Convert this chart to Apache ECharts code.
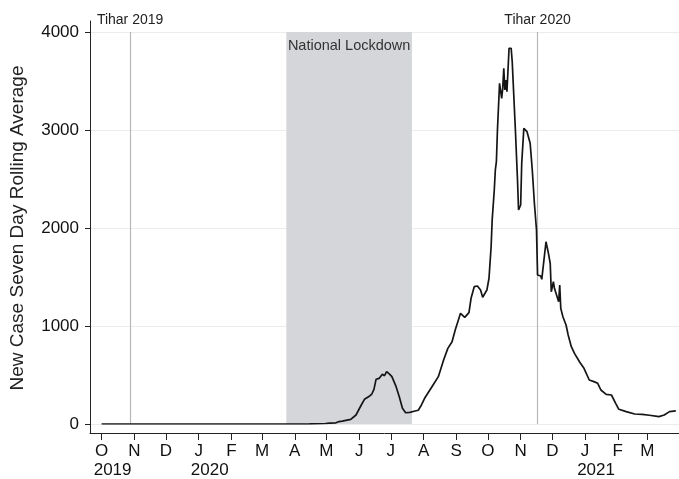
<!DOCTYPE html>
<html>
<head>
<meta charset="utf-8">
<script src="https://cdn.jsdelivr.net/npm/echarts@6/dist/echarts.min.js"></script>
<style>
  html, body { margin: 0; padding: 0; background: #fff; }
  #chart { width: 679px; height: 479px; }
</style>
</head>
<body>
<div id="chart"></div>
<script>
// Seven-day rolling average of new COVID-19 cases
const caseDates = [
  '2019-10-01', '2020-03-31', '2020-04-15', '2020-04-30', '2020-05-04', '2020-05-10',
  '2020-05-13', '2020-05-16', '2020-05-24', '2020-05-29', '2020-06-03', '2020-06-06',
  '2020-06-11', '2020-06-13', '2020-06-15', '2020-06-17', '2020-06-20', '2020-06-23',
  '2020-06-25', '2020-06-27', '2020-06-30', '2020-07-02', '2020-07-06', '2020-07-09',
  '2020-07-12', '2020-07-15', '2020-07-19', '2020-07-24', '2020-07-27', '2020-07-30',
  '2020-08-02', '2020-08-07', '2020-08-10', '2020-08-15', '2020-08-20', '2020-08-24',
  '2020-08-28', '2020-08-31', '2020-09-03', '2020-09-05', '2020-09-09', '2020-09-13',
  '2020-09-15', '2020-09-18', '2020-09-21', '2020-09-24', '2020-09-26', '2020-09-30',
  '2020-10-02', '2020-10-04', '2020-10-05', '2020-10-07', '2020-10-08', '2020-10-09',
  '2020-10-10', '2020-10-11', '2020-10-12', '2020-10-14', '2020-10-15', '2020-10-16',
  '2020-10-17', '2020-10-18', '2020-10-19', '2020-10-21', '2020-10-23', '2020-10-24',
  '2020-10-25', '2020-10-27', '2020-10-29', '2020-10-30', '2020-11-01', '2020-11-02',
  '2020-11-04', '2020-11-07', '2020-11-10', '2020-11-12', '2020-11-14', '2020-11-16',
  '2020-11-17', '2020-11-20', '2020-11-21', '2020-11-25', '2020-11-27', '2020-11-29',
  '2020-11-30', '2020-12-02', '2020-12-03', '2020-12-05', '2020-12-07', '2020-12-08',
  '2020-12-09', '2020-12-11', '2020-12-14', '2020-12-16', '2020-12-19', '2020-12-22',
  '2020-12-27', '2020-12-31', '2021-01-05', '2021-01-10', '2021-01-13', '2021-01-16',
  '2021-01-21', '2021-01-26', '2021-01-30', '2021-02-02', '2021-02-09', '2021-02-17',
  '2021-02-24', '2021-03-03', '2021-03-12', '2021-03-17', '2021-03-22', '2021-03-28'
];
const caseValues = [
  0, 0, 2, 5, 8, 12,
  25, 30, 48, 92, 194, 252,
  286, 306, 354, 456, 466, 507,
  493, 534, 507, 483, 381, 279,
  160, 115, 118, 133, 140, 194,
  262, 347, 398, 483, 653, 772,
  840, 959, 1061, 1129, 1088, 1136,
  1283, 1401, 1408, 1367, 1293, 1367,
  1487, 1809, 2080, 2388, 2592, 2677,
  3000, 3017, 3477, 3323, 3425, 3630,
  3408, 3510, 3391, 3834, 3834, 3697,
  3680, 3000, 2490, 2184, 2235, 2660,
  3017, 2983, 2864, 2592, 2252, 1980,
  1520, 1510, 1476, 1860, 1758, 1640,
  1350, 1452, 1384, 1316, 1248, 1418,
  1180, 1095, 1010, 908, 789, 721,
  630, 568, 449, 430, 415, 347,
  303, 296, 211, 150, 126, 102,
  99, 89, 75, 92, 126, 133
];

// Month ticks along the date axis
const monthTicks = [
  '2019-10-01', '2019-11-01', '2019-12-01', '2020-01-01', '2020-02-01', '2020-03-01',
  '2020-04-01', '2020-05-01', '2020-06-01', '2020-07-01', '2020-08-01', '2020-09-01',
  '2020-10-01', '2020-11-01', '2020-12-01', '2021-01-01', '2021-02-01', '2021-03-01'
];
const monthLabels = ['O', 'N', 'D', 'J', 'F', 'M', 'A', 'M', 'J', 'J', 'A', 'S', 'O', 'N', 'D', 'J', 'F', 'M'];
// Year captions under the first month of each year shown
const yearTicks = ['2019-10-01', '2020-01-01', '2021-01-01'];
const yearLabels = ['2019', '2020', '2021'];

// Festival markers and lockdown period
const tiharDates = ['2019-10-28', '2020-11-17'];
const tiharLabels = ['Tihar 2019', 'Tihar 2020'];
const lockdownRange = ['2020-03-24', '2020-07-21'];
const lockdownLabel = 'National Lockdown';

const xRange = ['2019-09-20', '2021-03-31'];
const yTitle = 'New Case Seven Day Rolling Average';

// Parse 'YYYY-MM-DD' as a local date
function ts(s) {
  const [y, m, d] = s.split('-').map(Number);
  return new Date(y, m - 1, d).getTime();
}

const FONT = '"Liberation Sans", Arial, Helvetica, sans-serif';
const monthIndex = new Map(monthTicks.map((d, i) => [ts(d), i]));
const yearIndex = new Map(yearTicks.map((d, i) => [ts(d), i]));

const chart = echarts.init(document.getElementById('chart'), null, { renderer: 'canvas' });

const frameAxisBase = {
  gridIndex: 1, type: 'value', min: ts(xRange[0]), max: ts(xRange[1]),
  splitLine: { show: false }
};

chart.setOption({
  animation: false,
  backgroundColor: '#fff',
  textStyle: { fontFamily: FONT },
  grid: [
    { left: 90, right: 0, top: 32, bottom: 55 },
    { left: 90, right: 0, top: 21, bottom: 44 }
  ],
  xAxis: [
    {
      // plotting axis: dates as timestamps
      gridIndex: 0, type: 'value', min: ts(xRange[0]), max: ts(xRange[1]),
      show: false
    },
    Object.assign({}, frameAxisBase, {
      // month ticks and initials
      axisLine: { show: true, onZero: false, lineStyle: { color: '#222', width: 1 } },
      axisTick: {
        show: true, length: 7, lineStyle: { color: '#222', width: 1 },
        customValues: monthTicks.map(ts)
      },
      axisLabel: {
        show: true, margin: 10, hideOverlap: false,
        customValues: monthTicks.map(ts),
        fontSize: 17, color: '#111', fontFamily: FONT,
        formatter: function (v) {
          const i = monthIndex.get(v);
          return i === undefined ? '' : monthLabels[i];
        }
      }
    }),
    Object.assign({}, frameAxisBase, {
      // year captions on a second row
      position: 'bottom', offset: 0,
      axisLine: { show: false, onZero: false },
      axisTick: { show: false },
      axisLabel: {
        show: true, margin: 29, hideOverlap: false,
        customValues: yearTicks.map(ts),
        formatter: function (v) {
          const i = yearIndex.get(v);
          return i === undefined ? '' : '{y|' + yearLabels[i] + '}';
        },
        rich: {
          y: { fontSize: 17, color: '#111', fontFamily: FONT, padding: [0, 0, 0, 22] }
        }
      }
    })
  ],
  yAxis: [
    {
      gridIndex: 0, type: 'value', min: 0, max: 4000, interval: 1000,
      axisLine: { show: false },
      axisTick: { show: true, length: 5, lineStyle: { color: '#222', width: 1 } },
      axisLabel: {
        fontSize: 17, color: '#111', margin: 11, fontFamily: FONT,
        formatter: function (v) { return String(v); }
      },
      splitLine: { show: true, lineStyle: { color: '#ececec', width: 1 } },
      name: yTitle, nameLocation: 'middle', nameGap: 63,
      nameTextStyle: { fontSize: 19, color: '#222', fontFamily: FONT }
    },
    {
      gridIndex: 1, type: 'value', min: 0, max: 1,
      axisLine: { show: true, onZero: false, lineStyle: { color: '#222', width: 1 } },
      axisTick: { show: false }, axisLabel: { show: false }, splitLine: { show: false }
    }
  ],
  series: [
    {
      type: 'line', xAxisIndex: 0, yAxisIndex: 0,
      data: caseDates.map((d, i) => [ts(d), caseValues[i]]),
      showSymbol: false, symbol: 'none',
      lineStyle: { color: '#151515', width: 1.7 },
      z: 5,
      markArea: {
        silent: true,
        itemStyle: { color: '#d5d6d9' },
        label: { position: 'insideTop', distance: 6, fontSize: 14.5, color: '#333', fontFamily: FONT },
        data: [[{ xAxis: ts(lockdownRange[0]), name: lockdownLabel }, { xAxis: ts(lockdownRange[1]) }]]
      },
      markLine: {
        silent: true, symbol: 'none',
        lineStyle: { color: '#b8b8b8', width: 1.2, type: 'solid' },
        label: { position: 'end', distance: 5, fontSize: 14, color: '#222', fontFamily: FONT },
        data: tiharDates.map((d, i) => ({ xAxis: ts(d), label: { formatter: tiharLabels[i] } }))
      }
    }
  ]
});
</script>
</body>
</html>
